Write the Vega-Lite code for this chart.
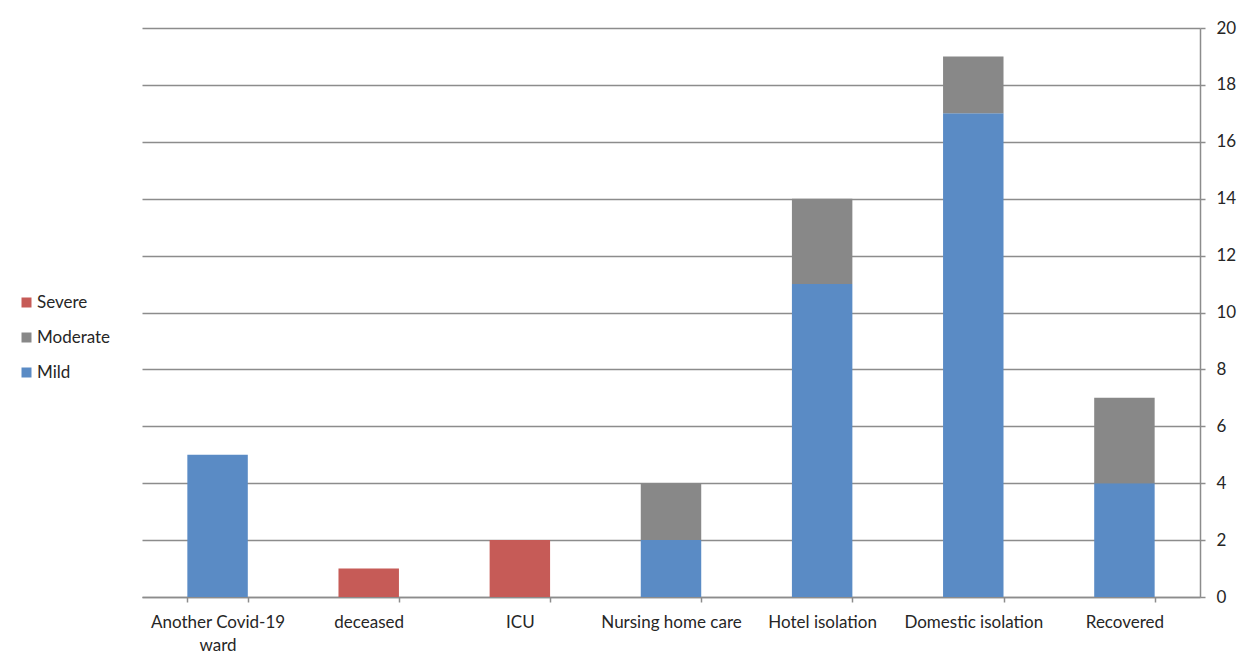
{
  "$schema": "https://vega.github.io/schema/vega-lite/v6.json",
  "width": 1058,
  "height": 569,
  "autosize": "none",
  "padding": {"left": 142, "top": 28, "right": 49, "bottom": 67},
  "background": "white",
  "config": {
    "view": {"stroke": null},
    "font": "Lato",
    "axis": {"labelFont": "Lato", "labelFontSize": 17, "labelColor": "#262626"},
    "legend": {"labelFont": "Lato", "labelFontSize": 17, "labelColor": "#262626"}
  },
  "data": {
    "values": [
      {"outcome": "Another Covid-19 ward", "severity": "Mild", "count": 5},
      {"outcome": "deceased", "severity": "Severe", "count": 1},
      {"outcome": "ICU", "severity": "Severe", "count": 2},
      {"outcome": "Nursing home care", "severity": "Mild", "count": 2},
      {"outcome": "Nursing home care", "severity": "Moderate", "count": 2},
      {"outcome": "Hotel isolation", "severity": "Mild", "count": 11},
      {"outcome": "Hotel isolation", "severity": "Moderate", "count": 3},
      {"outcome": "Domestic isolation", "severity": "Mild", "count": 17},
      {"outcome": "Domestic isolation", "severity": "Moderate", "count": 2},
      {"outcome": "Recovered", "severity": "Mild", "count": 4},
      {"outcome": "Recovered", "severity": "Moderate", "count": 3}
    ]
  },
  "mark": {"type": "bar"},
  "encoding": {
    "x": {
      "field": "outcome",
      "type": "nominal",
      "sort": ["Another Covid-19 ward", "deceased", "ICU", "Nursing home care", "Hotel isolation", "Domestic isolation", "Recovered"],
      "scale": {"paddingInner": 0.6, "paddingOuter": 0.3},
      "axis": {
        "title": null,
        "labelAngle": 0,
        "tickBand": "extent",
        "tickSize": 5,
        "tickColor": "#8c8c8c",
        "tickWidth": 1.5,
        "domainColor": "#8c8c8c",
        "domainWidth": 1.5,
        "labelPadding": 12,
        "labelLineHeight": 23,
        "labelExpr": "datum.label == 'Another Covid-19 ward' ? ['Another Covid-19', 'ward'] : datum.label"
      }
    },
    "y": {
      "field": "count",
      "type": "quantitative",
      "stack": "zero",
      "scale": {"domain": [0, 20]},
      "axis": {
        "orient": "right",
        "title": null,
        "values": [0, 2, 4, 6, 8, 10, 12, 14, 16, 18, 20],
        "grid": true,
        "gridColor": "#8c8c8c",
        "gridWidth": 1.5,
        "tickSize": 5,
        "tickColor": "#8c8c8c",
        "tickWidth": 1.5,
        "domainColor": "#8c8c8c",
        "domainWidth": 1.5,
        "labelPadding": 11
      }
    },
    "color": {
      "field": "severity",
      "type": "nominal",
      "scale": {"domain": ["Severe", "Moderate", "Mild"], "range": ["#C65B57", "#888888", "#5A8BC5"]},
      "legend": {
        "title": null,
        "orient": "none",
        "legendX": -124,
        "legendY": 266,
        "symbolType": "square",
        "symbolSize": 100,
        "symbolStrokeWidth": 0,
        "rowPadding": 17,
        "labelOffset": 2
      }
    },
    "order": {"field": "severity", "sort": "ascending"}
  }
}
